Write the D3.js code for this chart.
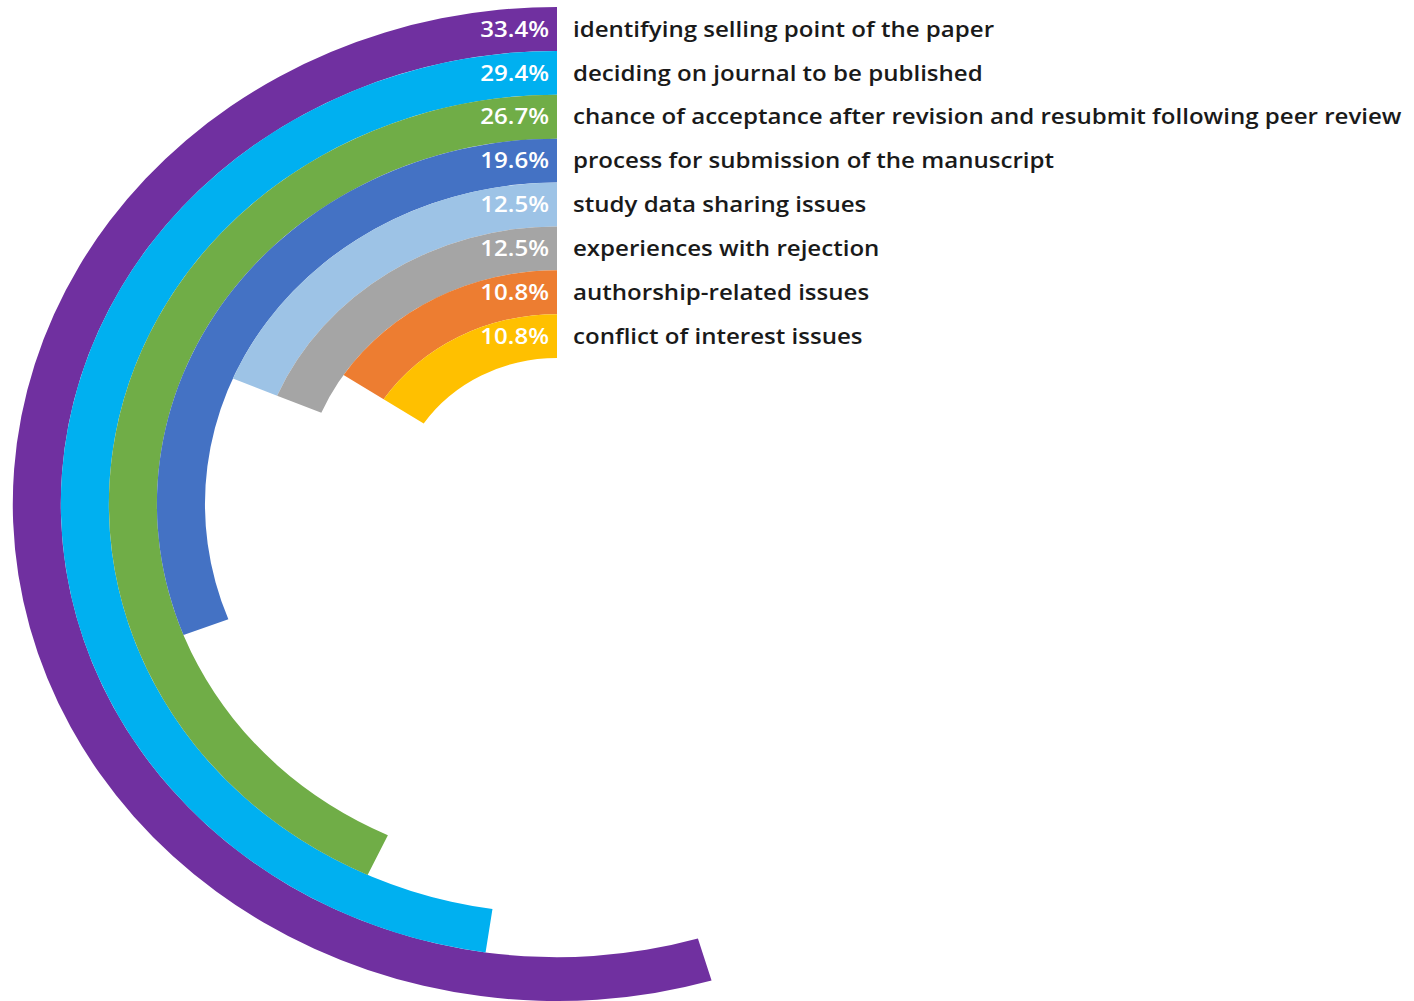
<!DOCTYPE html>
<html>
<head>
<meta charset="utf-8">
<script src="https://cdn.jsdelivr.net/npm/d3@7"></script>
<style>
  body { margin: 0; background: #fff; }
</style>
</head>
<body>
<div id="chart"></div>
<script>
var w = 1414;
var h = 1001;

// outermost ring first
var topics = [
  "identifying selling point of the paper",
  "deciding on journal to be published",
  "chance of acceptance after revision and resubmit following peer review",
  "process for submission of the manuscript",
  "study data sharing issues",
  "experiences with rejection",
  "authorship-related issues",
  "conflict of interest issues"
];
var percents = [33.4, 29.4, 26.7, 19.6, 12.5, 12.5, 10.8, 10.8];
var colours = ["#7030A0", "#00B0F0", "#70AD47", "#4472C4", "#9DC3E6", "#A5A5A5", "#ED7D31", "#FFC000"];

var cx = 557;
var cy = 504;
var stretch = 1.095; // the whole picture is a little wider than tall

var svg = d3.select("#chart").append("svg").attr("width", w).attr("height", h);

// ring radius per topic, innermost = last topic
var ring = d3.scaleBand()
  .domain(topics.slice().reverse())
  .range([146, 497])
  .padding(0);

// sweep of each bar, counter-clockwise from 12 o'clock
var sweep = d3.scaleLinear()
  .domain([10.8, 33.4])
  .range([56.5, 196.5].map(function (deg) { return deg * Math.PI / 180; }));

var arc = d3.arc()
  .innerRadius(function (d, i) { return ring(topics[i]); })
  .outerRadius(function (d, i) { return ring(topics[i]) + ring.bandwidth(); })
  .startAngle(0)
  .endAngle(function (d) { return -sweep(d); });

function bandMid(i) {
  return cy - ring(topics[i]) - ring.bandwidth() / 2;
}

function place(x) {
  return function (d, i) {
    return "translate(" + x + "," + bandMid(i) + ") scale(" + stretch + ",1)";
  };
}

function radialBars() {
  svg.append("g")
    .attr("transform", "translate(" + cx + "," + cy + ") scale(" + stretch + ",1)")
    .selectAll("path")
    .data(percents)
    .enter()
    .append("path")
    .attr("d", arc)
    .attr("fill", function (d, i) { return colours[i]; });

  svg.selectAll("text.pct")
    .data(percents)
    .enter()
    .append("text")
    .attr("class", "pct")
    .text(function (d) { return d.toFixed(1) + "%"; })
    .attr("transform", place(cx - 8))
    .attr("dy", "0.35em")
    .attr("text-anchor", "end")
    .attr("font-family", "'Open Sans', sans-serif")
    .attr("font-weight", 600)
    .attr("font-size", "22px")
    .attr("fill", "#fff");

  svg.selectAll("text.topic")
    .data(topics)
    .enter()
    .append("text")
    .attr("class", "topic")
    .text(function (d) { return d; })
    .attr("transform", place(cx + 16))
    .attr("dy", "0.35em")
    .attr("font-family", "'Open Sans', sans-serif")
    .attr("font-weight", 600)
    .attr("font-size", "22px")
    .attr("fill", "#1a1a1a");
}

radialBars();
</script>
</body>
</html>
